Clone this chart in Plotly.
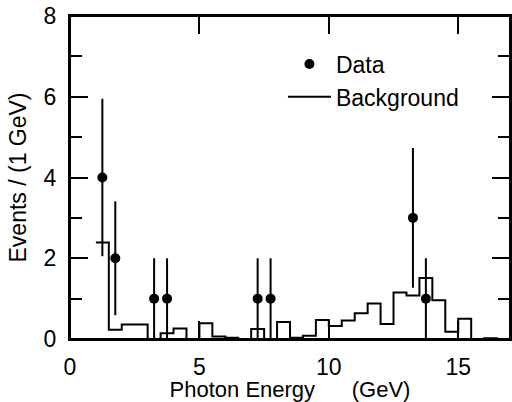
import plotly.graph_objects as go

# background histogram, 0.5 GeV bins starting at 1 GeV
bin_edges = [1.0, 1.5, 2.0, 2.5, 3.0, 3.5, 4.0, 4.5, 5.0, 5.5, 6.0, 6.5, 7.0, 7.5, 8.0, 8.5,
             9.0, 9.5, 10.0, 10.5, 11.0, 11.5, 12.0, 12.5, 13.0, 13.5, 14.0, 14.5, 15.0, 15.5,
             16.0, 16.5, 17.0]
background = [2.39, 0.23, 0.36, 0.36, 0.0, 0.14, 0.26, 0.0, 0.39, 0.06, 0.03, 0.0, 0.25, 0.0,
              0.42, 0.03, 0.08, 0.47, 0.32, 0.46, 0.64, 0.88, 0.37, 1.15, 1.08, 1.51, 0.96,
              0.18, 0.50, 0.0, 0.02, 0.0]

# data points
data_x = [1.25, 1.75, 3.25, 3.75, 7.25, 7.75, 13.25, 13.75]
data_y = [4, 2, 1, 1, 1, 1, 3, 1]
data_err = [1.95, 1.41, 1.0, 1.0, 1.0, 1.0, 1.73, 1.0]

font_name = "Liberation Sans, Arial, sans-serif"

fig = go.Figure()

fig.add_trace(go.Scatter(
    x=bin_edges, y=background + [background[-1]],
    mode="lines", line=dict(shape="hv", color="black", width=2),
    name="Background"
))

fig.add_trace(go.Scatter(
    x=data_x, y=data_y, mode="markers",
    marker=dict(color="black", size=10),
    error_y=dict(type="data", array=data_err, color="black", thickness=2, width=0),
    name="Data", cliponaxis=False
))

fig.update_layout(
    width=512, height=402,
    margin=dict(l=70, r=2, t=16, b=63),
    paper_bgcolor="white", plot_bgcolor="white",
    font=dict(family=font_name, size=22, color="black"),
    showlegend=True,
    legend=dict(x=0.484, y=0.918, xanchor="left", yanchor="top",
                traceorder="reversed", bgcolor="rgba(0,0,0,0)",
                itemwidth=43, font=dict(size=23)),
)

# frame round the plot area
fig.add_shape(type="rect", xref="paper", yref="paper", x0=0, x1=1, y0=0, y1=1,
              line=dict(color="black", width=2), layer="above")

# trailing em spaces nudge the title a little to the left, as in the original
x_title = "Photon Energy" + "\u00a0" * 6 + "(GeV)" + "\u2003\u2003\u2003"

fig.update_xaxes(
    range=[0, 17], tickvals=[0, 5, 10, 15], ticks="inside", ticklen=18, tickwidth=1.5,
    tickcolor="black", showline=True, linecolor="black", linewidth=2, mirror="allticks",
    showgrid=False, zeroline=False, ticklabelstandoff=6, automargin=False,
    tickfont=dict(size=23),
    title=dict(text=x_title, standoff=8, font=dict(size=22)),
)

fig.update_yaxes(
    range=[0, 8], tickvals=[0, 2, 4, 6, 8], ticks="inside", ticklen=18, tickwidth=1.5,
    tickcolor="black",
    minor=dict(tickvals=[1, 3, 5, 7], ticks="inside", ticklen=12, tickwidth=1.5, tickcolor="black"),
    showline=True, linecolor="black", linewidth=2, mirror="ticks",
    showgrid=False, zeroline=False, ticklabelstandoff=7, automargin=False,
    tickfont=dict(size=23),
    title=dict(text="Events / (1 GeV)", standoff=11, font=dict(size=23)),
)

# drop the default 8px page margin so the figure fills the window
fig.write_html("out.html", config={"displayModeBar": False},
               post_script="document.body.style.margin = '0px';")
